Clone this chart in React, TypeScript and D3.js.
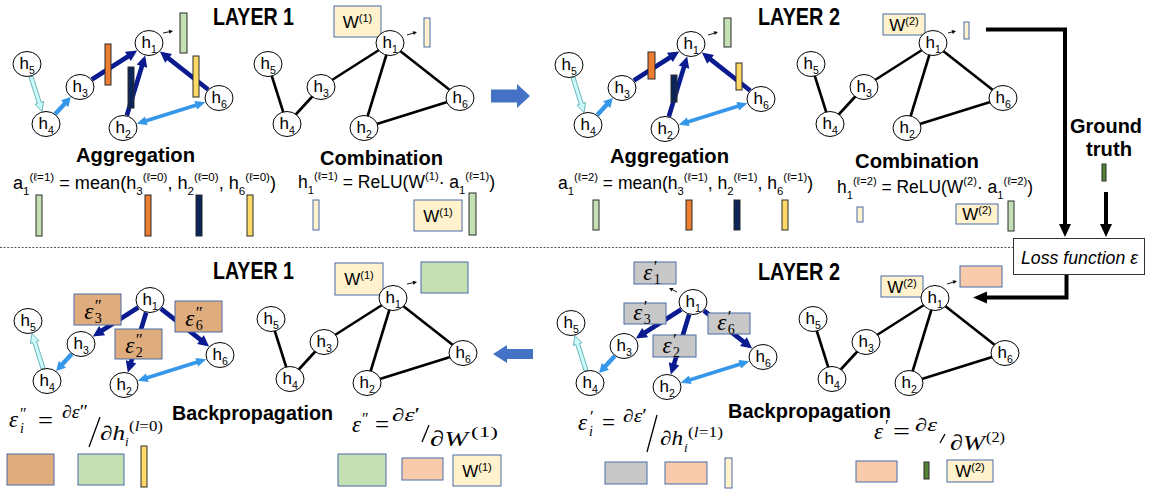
import * as d3 from "d3";

type Pt = [number, number];
type Seg = [string, number]; // 0 normal, 1 subscript, 2 superscript

const SANS = "'Liberation Sans', Arial, sans-serif";
const SERIF = "'Liberation Serif', 'DejaVu Serif', serif";

// ---------- graph ----------
const NODE_IDS = [1, 2, 3, 4, 5, 6];
// node places relative to h1 (same drawing is reused in every panel)
const NODE_LAYOUT: Record<number, Pt> = {
  1: [0, 0],
  2: [-26, 85],
  3: [-69, 44],
  4: [-103, 81],
  5: [-122, 21],
  6: [70, 55],
};
const GRAPH_EDGES: [number, number][] = [[5, 4], [4, 3], [3, 1], [1, 2], [1, 6], [2, 6]];
const FORWARD_FLOW: [number, number, string][] = [
  [5, 4, "cyan"], [4, 3, "blue"], [3, 1, "navy"], [2, 1, "navy"], [6, 1, "navy"], [2, 6, "both"],
];
const BACKWARD_FLOW: [number, number, string][] = [
  [4, 5, "cyan"], [3, 4, "blue"], [1, 3, "navy"], [1, 2, "navy"], [1, 6, "navy"], [2, 6, "both"],
];

const PANELS: { name: string; at: Pt; mode: string }[] = [
  { name: "aggregation-1", at: [149, 43], mode: "forward" },
  { name: "combination-1", at: [390, 43], mode: "plain" },
  { name: "aggregation-2", at: [691, 44], mode: "forward" },
  { name: "combination-2", at: [933, 43], mode: "plain" },
  { name: "backprop-1", at: [150, 300], mode: "backward" },
  { name: "update-1", at: [393, 298], mode: "plain" },
  { name: "backprop-2", at: [693, 302], mode: "backward" },
  { name: "update-2", at: [935, 298], mode: "plain" },
];

// ---------- texts ----------
const TITLES: [string, number, number, number][] = [
  ["LAYER 1", 213, 25, 81],
  ["LAYER 2", 758, 25, 82],
  ["LAYER 1", 213, 279, 81],
  ["LAYER 2", 758, 280, 82],
];
const STEP_LABELS: [string, number, number, number][] = [
  ["Aggregation", 76, 162, 119],
  ["Aggregation", 610, 163, 119],
  ["Combination", 320, 165, 123],
  ["Combination", 855, 168, 124],
  ["Backpropagation", 172, 420, 161],
  ["Backpropagation", 728, 418, 163],
  ["Ground", 1070, 133, 72],
  ["truth", 1086, 156, 46],
];

const AGG_FORMULA_1: Seg[] = [
  ["a", 0], ["1", 1], ["(ℓ=1)", 2], [" = mean(h", 0], ["3", 1], ["(ℓ=0)", 2],
  [", h", 0], ["2", 1], ["(ℓ=0)", 2], [", h", 0], ["6", 1], ["(ℓ=0)", 2], [")", 0],
];
const AGG_FORMULA_2: Seg[] = [
  ["a", 0], ["1", 1], ["(ℓ=2)", 2], [" = mean(h", 0], ["3", 1], ["(ℓ=1)", 2],
  [", h", 0], ["2", 1], ["(ℓ=1)", 2], [", h", 0], ["6", 1], ["(ℓ=1)", 2], [")", 0],
];
const COMB_FORMULA_1: Seg[] = [
  ["h", 0], ["1", 1], ["(ℓ=1)", 2], [" = ReLU(W", 0], ["(1)", 2], ["· a", 0], ["1", 1], ["(ℓ=1)", 2], [")", 0],
];
const COMB_FORMULA_2: Seg[] = [
  ["h", 0], ["1", 1], ["(ℓ=2)", 2], [" = ReLU(W", 0], ["(2)", 2], ["· a", 0], ["1", 1], ["(ℓ=2)", 2], [")", 0],
];
const FORMULAS: [Seg[], number, number, number][] = [
  [AGG_FORMULA_1, 13, 189, 263],
  [COMB_FORMULA_1, 298, 188, 197],
  [AGG_FORMULA_2, 558, 189, 255],
  [COMB_FORMULA_2, 837, 193, 196],
];

// ---------- feature vectors / weight boxes ----------
const COLORS: Record<string, string> = {
  green: "#c5e0b4",
  orange: "#ed7d31",
  navy: "#0c2558",
  yellow: "#ffd966",
  cream: "#fff2cc",
  peach: "#f8cbad",
  tan: "#dfac7e",
  grey: "#c8c8c8",
  dkgreen: "#548235",
};
type Block = { x: number; y: number; w: number; h: number; c: string; t?: string; e?: [string, string] };
const BLOCKS: Block[] = [
  // layer 1 aggregation
  { x: 180, y: 13, w: 7, h: 40, c: "green" },
  { x: 105, y: 44, w: 6, h: 41, c: "orange" },
  { x: 128, y: 67, w: 6, h: 41, c: "navy" },
  { x: 193, y: 56, w: 6, h: 41, c: "yellow" },
  { x: 36, y: 195, w: 6, h: 41, c: "green" },
  { x: 145, y: 195, w: 6, h: 41, c: "orange" },
  { x: 196, y: 195, w: 6, h: 41, c: "navy" },
  { x: 247, y: 195, w: 6, h: 41, c: "yellow" },
  // layer 1 combination
  { x: 334, y: 6, w: 47, h: 31, c: "cream", t: "(1)" },
  { x: 424, y: 18, w: 6, h: 29, c: "cream" },
  { x: 313, y: 200, w: 6, h: 30, c: "cream" },
  { x: 414, y: 200, w: 48, h: 31, c: "cream", t: "(1)" },
  { x: 469, y: 193, w: 7, h: 42, c: "green" },
  // layer 2 aggregation
  { x: 724, y: 18, w: 7, h: 29, c: "green" },
  { x: 648, y: 52, w: 7, h: 27, c: "orange" },
  { x: 671, y: 75, w: 6, h: 27, c: "navy" },
  { x: 736, y: 63, w: 6, h: 27, c: "yellow" },
  { x: 593, y: 200, w: 6, h: 30, c: "green" },
  { x: 686, y: 200, w: 6, h: 30, c: "orange" },
  { x: 734, y: 200, w: 6, h: 30, c: "navy" },
  { x: 782, y: 200, w: 6, h: 30, c: "yellow" },
  // layer 2 combination
  { x: 883, y: 14, w: 42, h: 21, c: "cream", t: "(2)" },
  { x: 964, y: 22, w: 5, h: 17, c: "cream" },
  { x: 857, y: 207, w: 6, h: 15, c: "cream" },
  { x: 956, y: 204, w: 42, h: 20, c: "cream", t: "(2)" },
  { x: 1008, y: 201, w: 6, h: 30, c: "green" },
  { x: 1102, y: 164, w: 4, h: 17, c: "dkgreen" },
  // layer 1 backprop
  { x: 74, y: 294, w: 47, h: 31, c: "tan", e: ["3", "″"] },
  { x: 115, y: 329, w: 47, h: 30, c: "tan", e: ["2", "″"] },
  { x: 175, y: 301, w: 47, h: 31, c: "tan", e: ["6", "″"] },
  { x: 7, y: 454, w: 47, h: 31, c: "tan" },
  { x: 78, y: 454, w: 46, h: 31, c: "green" },
  { x: 141, y: 446, w: 6, h: 41, c: "yellow" },
  // layer 1 update
  { x: 335, y: 263, w: 48, h: 32, c: "cream", t: "(1)" },
  { x: 421, y: 262, w: 47, h: 31, c: "green" },
  { x: 338, y: 454, w: 48, h: 32, c: "green" },
  { x: 402, y: 458, w: 41, h: 22, c: "peach" },
  { x: 453, y: 455, w: 48, h: 31, c: "cream", t: "(1)" },
  // layer 2 backprop
  { x: 634, y: 262, w: 42, h: 22, c: "grey", e: ["1", "′"] },
  { x: 624, y: 303, w: 42, h: 21, c: "grey", e: ["3", "′"] },
  { x: 653, y: 335, w: 43, h: 22, c: "grey", e: ["2", "′"] },
  { x: 708, y: 313, w: 42, h: 21, c: "grey", e: ["6", "′"] },
  { x: 605, y: 462, w: 42, h: 22, c: "grey" },
  { x: 665, y: 462, w: 42, h: 22, c: "peach" },
  { x: 725, y: 458, w: 7, h: 30, c: "cream" },
  // layer 2 update
  { x: 881, y: 276, w: 42, h: 21, c: "cream", t: "(2)" },
  { x: 960, y: 266, w: 42, h: 21, c: "peach" },
  { x: 856, y: 461, w: 41, h: 21, c: "peach" },
  { x: 924, y: 462, w: 5, h: 17, c: "dkgreen" },
  { x: 947, y: 460, w: 46, h: 22, c: "cream", t: "(2)" },
];

// small "output" arrows next to h1
const THIN_ARROWS: [number, number, number, number][] = [
  [163, 33, 173, 31],
  [407, 35, 417, 32],
  [708, 35, 718, 32],
  [948, 33, 956, 31],
  [407, 284, 417, 282],
  [677, 292, 669, 288],
  [947, 284, 957, 281],
];

// math formulas of the backward pass
type Piece = { x: number; y: number; s: number; parts: [string, boolean][]; len?: number };
const MATH: { pieces: Piece[]; slash: [number, number, number, number] }[] = [
  {
    pieces: [
      { x: 9, y: 427, s: 23, parts: [["ε", true]] },
      { x: 20, y: 433, s: 14, parts: [["i", true]] },
      { x: 20, y: 419, s: 16, parts: [["″", false]] },
      { x: 38, y: 428, s: 23, parts: [["=", false]], len: 15 },
      { x: 62, y: 418, s: 18, parts: [["∂ε", true], ["″", false]], len: 26 },
      { x: 100, y: 440, s: 20, parts: [["∂h", true]], len: 25 },
      { x: 125, y: 446, s: 13, parts: [["i", true]] },
      { x: 129, y: 431, s: 14, parts: [["(", false], ["l", true], ["=0)", false]], len: 34 },
    ],
    slash: [89, 447, 100, 417],
  },
  {
    pieces: [
      { x: 352, y: 432, s: 23, parts: [["ε", true]] },
      { x: 362, y: 424, s: 16, parts: [["″", false]] },
      { x: 375, y: 432, s: 23, parts: [["=", false]], len: 14 },
      { x: 392, y: 421, s: 18, parts: [["∂ε", true], ["′", false]], len: 28 },
      { x: 430, y: 446, s: 22, parts: [["∂W", true]], len: 38 },
      { x: 471, y: 437, s: 15, parts: [["(1)", false]], len: 27 },
    ],
    slash: [422, 442, 429, 425],
  },
  {
    pieces: [
      { x: 578, y: 430, s: 23, parts: [["ε", true]] },
      { x: 589, y: 436, s: 14, parts: [["i", true]] },
      { x: 590, y: 422, s: 17, parts: [["′", false]] },
      { x: 602, y: 430, s: 23, parts: [["=", false]], len: 13 },
      { x: 623, y: 422, s: 18, parts: [["∂ε", true], ["′", false]], len: 24 },
      { x: 660, y: 445, s: 20, parts: [["∂h", true]], len: 23 },
      { x: 684, y: 452, s: 13, parts: [["i", true]] },
      { x: 688, y: 437, s: 14, parts: [["(", false], ["l", true], ["=1)", false]], len: 35 },
    ],
    slash: [647, 452, 657, 415],
  },
  {
    pieces: [
      { x: 874, y: 439, s: 23, parts: [["ε", true]] },
      { x: 885, y: 431, s: 17, parts: [["′", false]] },
      { x: 893, y: 439, s: 23, parts: [["=", false]], len: 17 },
      { x: 915, y: 431, s: 18, parts: [["∂ε", true]], len: 22 },
      { x: 950, y: 450, s: 22, parts: [["∂W", true]], len: 35 },
      { x: 986, y: 442, s: 15, parts: [["(2)", false]], len: 19 },
    ],
    slash: [940, 443, 945, 434],
  },
];

// ---------- drawing helpers ----------
const ARROW_STYLE: Record<string, { fill: string; stroke: string; w: number; hw: number; hl: number }> = {
  navy: { fill: "#0a1a8f", stroke: "none", w: 4.6, hw: 11, hl: 11 },
  blue: { fill: "#3597ea", stroke: "none", w: 4.4, hw: 10, hl: 9 },
  cyan: { fill: "#cdfbfb", stroke: "#4aa3aa", w: 4, hw: 9, hl: 9 },
  both: { fill: "#3597ea", stroke: "none", w: 3.6, hw: 9, hl: 10 },
};
const RX = 14;
const RY = 12.5;

function nodePos(at: Pt, id: number): Pt {
  const o = NODE_LAYOUT[id];
  return [at[0] + o[0], at[1] + o[1]];
}

function edgeRadius(ux: number, uy: number) {
  return 1 / Math.sqrt((ux / RX) ** 2 + (uy / RY) ** 2);
}

function trimmed(a: Pt, b: Pt): [Pt, Pt] {
  const dx = b[0] - a[0];
  const dy = b[1] - a[1];
  const L = Math.hypot(dx, dy);
  const ux = dx / L;
  const uy = dy / L;
  const r = edgeRadius(ux, uy) + 0.5;
  return [
    [a[0] + ux * r, a[1] + uy * r],
    [b[0] - ux * r, b[1] - uy * r],
  ];
}

function blockArrow(p: Pt, q: Pt, w: number, hw: number, hl: number, double: boolean) {
  const dx = q[0] - p[0];
  const dy = q[1] - p[1];
  const L = Math.hypot(dx, dy);
  const ux = dx / L;
  const uy = dy / L;
  const P = (s: number, t: number): Pt => [p[0] + ux * s - uy * t, p[1] + uy * s + ux * t];
  const pts: Pt[] = [];
  if (double) pts.push(P(0, 0), P(hl, hw / 2), P(hl, w / 2));
  else pts.push(P(0, w / 2));
  pts.push(P(L - hl, w / 2), P(L - hl, hw / 2), P(L, 0), P(L - hl, -hw / 2), P(L - hl, -w / 2));
  if (double) pts.push(P(hl, -w / 2), P(hl, -hw / 2));
  else pts.push(P(0, -w / 2));
  return d3.line()(pts) + "Z";
}

function thinArrow(x0: number, y0: number, x1: number, y1: number) {
  const L = Math.hypot(x1 - x0, y1 - y0);
  const ux = (x1 - x0) / L;
  const uy = (y1 - y0) / L;
  const hl = 4;
  const hw = 2;
  const bx = x1 - ux * hl;
  const by = y1 - uy * hl;
  const head: Pt[] = [
    [x1, y1],
    [bx - uy * hw, by + ux * hw],
    [bx + uy * hw, by - ux * hw],
  ];
  return { line: d3.line()([[x0, y0], [bx, by]]) || "", head: d3.line()(head) + "Z" };
}

function Rich({ x, y, size, segs, len }: { x: number; y: number; size: number; segs: Seg[]; len: number }) {
  let cur = 0;
  return (
    <text x={x} y={y} fontSize={size} textLength={len} lengthAdjust="spacingAndGlyphs">
      {segs.map(([t, k], i) => {
        const target = k === 1 ? size * 0.33 : k === 2 ? -size * 0.42 : 0;
        const dy = target - cur;
        cur = target;
        return (
          <tspan key={i} dy={dy} fontSize={k ? size * 0.64 : size}>
            {t}
          </tspan>
        );
      })}
    </text>
  );
}

function BlockView({ b }: { b: Block }) {
  const stroke = b.c === "cream" || b.w > 12 ? "#4a6aa8" : "#2a2a2a";
  const cx = b.x + b.w / 2;
  const ex = b.x + b.w * 0.22;
  const ey = b.y + b.h * 0.8;
  return (
    <g>
      <rect x={b.x} y={b.y} width={b.w} height={b.h} fill={COLORS[b.c]} stroke={stroke} strokeWidth={1} />
      {b.t && (
        <text x={cx} y={b.y + b.h / 2 + 6} fontSize={17} textAnchor="middle">
          W
          <tspan dy={-6} fontSize={11}>
            {b.t}
          </tspan>
        </text>
      )}
      {b.e && (
        <text fontFamily={SERIF}>
          <tspan x={ex} y={ey} fontSize={23} fontStyle="italic">
            ε
          </tspan>
          <tspan x={ex + 10.5} y={ey + 4} fontSize={14}>
            {b.e[0]}
          </tspan>
          <tspan x={ex + 10.5} y={ey - 8} fontSize={17}>
            {b.e[1]}
          </tspan>
        </text>
      )}
    </g>
  );
}

function PanelEdges({ at, mode }: { at: Pt; mode: string }) {
  if (mode === "plain") {
    return (
      <g stroke="#000" strokeWidth={2.6}>
        {GRAPH_EDGES.map(([a, b], i) => {
          const p = nodePos(at, a);
          const q = nodePos(at, b);
          return <line key={i} x1={p[0]} y1={p[1]} x2={q[0]} y2={q[1]} />;
        })}
      </g>
    );
  }
  const flow = mode === "forward" ? FORWARD_FLOW : BACKWARD_FLOW;
  return (
    <g>
      {flow.map(([a, b, kind], i) => {
        const s = ARROW_STYLE[kind];
        const [p, q] = trimmed(nodePos(at, a), nodePos(at, b));
        return (
          <path
            key={i}
            d={blockArrow(p, q, s.w, s.hw, s.hl, kind === "both")}
            fill={s.fill}
            stroke={s.stroke}
            strokeWidth={0.8}
          />
        );
      })}
    </g>
  );
}

function PanelNodes({ at }: { at: Pt }) {
  return (
    <g>
      {NODE_IDS.map((id) => {
        const [cx, cy] = nodePos(at, id);
        return (
          <g key={id}>
            <ellipse cx={cx} cy={cy} rx={RX} ry={RY} fill="#fff" stroke="#000" strokeWidth={1} />
            <text x={cx - 7.5} y={cy + 5} fontSize={17}>
              h
              <tspan dy={5} fontSize={10.5}>
                {id}
              </tspan>
            </text>
          </g>
        );
      })}
    </g>
  );
}

export default function App() {
  return (
    <svg
      width={1162}
      height={489}
      viewBox="0 0 1162 489"
      style={{ position: "absolute", left: 0, top: 0, background: "#fff" }}
      fontFamily={SANS}
    >
      <rect width={1162} height={489} fill="#fff" />
      <line x1={0} x2={1013} y1={247.5} y2={247.5} stroke="#555" strokeWidth={1} strokeDasharray="2 1.6" />

      {PANELS.map((p) => (
        <PanelEdges key={p.name} at={p.at} mode={p.mode} />
      ))}

      {BLOCKS.map((b, i) => (
        <BlockView key={i} b={b} />
      ))}

      {PANELS.map((p) => (
        <PanelNodes key={p.name} at={p.at} />
      ))}

      {THIN_ARROWS.map(([x0, y0, x1, y1], i) => {
        const a = thinArrow(x0, y0, x1, y1);
        return (
          <g key={i}>
            <path d={a.line} stroke="#000" strokeWidth={0.9} fill="none" />
            <path d={a.head} fill="#000" />
          </g>
        );
      })}

      {/* big blue arrows between the layers */}
      <path d="M491,89.5 H517 V84 L530,96 L517,108 V102.5 H491 Z" fill="#4472c4" />
      <path d="M533,349 H507 V345 L493,354 L507,363 V359 H533 Z" fill="#4472c4" />

      {/* loss connectors */}
      <path d="M986,29.5 H1065 V225" fill="none" stroke="#000" strokeWidth={4} />
      <path d="M1059,224 H1071 L1065,237 Z" fill="#000" />
      <path d="M1106,192 V225" fill="none" stroke="#000" strokeWidth={4} />
      <path d="M1100,224 H1112 L1106,237 Z" fill="#000" />
      <path d="M1066.5,275 V297.5 H985" fill="none" stroke="#000" strokeWidth={4} />
      <path d="M987,291.5 V303.5 L973,297.5 Z" fill="#000" />

      <rect x={1013.5} y={238.5} width={131} height={36} fill="#fff" stroke="#333" strokeWidth={1} />
      <text x={1021} y={264} fontSize={19} fontStyle="italic" textLength={117} lengthAdjust="spacingAndGlyphs">
        Loss function ε
      </text>

      {TITLES.map(([t, x, y, len], i) => (
        <text key={i} x={x} y={y} fontSize={23} fontWeight="bold" textLength={len} lengthAdjust="spacingAndGlyphs">
          {t}
        </text>
      ))}
      {STEP_LABELS.map(([t, x, y, len], i) => (
        <text key={i} x={x} y={y} fontSize={21} fontWeight="bold" textLength={len} lengthAdjust="spacingAndGlyphs">
          {t}
        </text>
      ))}
      {FORMULAS.map(([segs, x, y, len], i) => (
        <Rich key={i} x={x} y={y} size={18} segs={segs} len={len} />
      ))}

      {MATH.map((m, i) => (
        <g key={i} fontFamily={SERIF}>
          <text>
            {m.pieces.map((p, j) => (
              <tspan
                key={j}
                x={p.x}
                y={p.y}
                fontSize={p.s}
                textLength={p.len}
                lengthAdjust={p.len ? "spacingAndGlyphs" : undefined}
              >
                {p.parts.map(([t, it], k) => (
                  <tspan key={k} fontStyle={it ? "italic" : "normal"}>
                    {t}
                  </tspan>
                ))}
              </tspan>
            ))}
          </text>
          <line x1={m.slash[0]} y1={m.slash[1]} x2={m.slash[2]} y2={m.slash[3]} stroke="#000" strokeWidth={1.3} />
        </g>
      ))}
    </svg>
  );
}
